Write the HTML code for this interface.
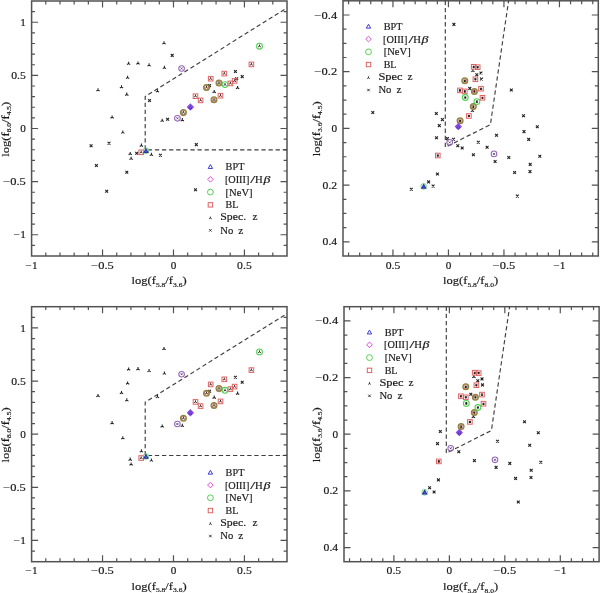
<!DOCTYPE html>
<html><head><meta charset="utf-8"><title>figure</title>
<style>html,body{margin:0;padding:0;background:#fff;}body{width:600px;height:593px;overflow:hidden;font-family:"Liberation Serif",serif;}svg{display:block;will-change:transform;} svg text{stroke:#1a1a1a;stroke-width:0.18px;}</style></head><body>
<svg width="600" height="593" viewBox="0 0 600 593" font-family="Liberation Serif, serif" fill="#1a1a1a"><g stroke-width="0">
<rect width="600" height="593" fill="#fff"/>
<path d="M45.79 256.00v-3.4M45.79 1.00v3.4M59.98 256.00v-3.4M59.98 1.00v3.4M74.17 256.00v-3.4M74.17 1.00v3.4M88.36 256.00v-3.4M88.36 1.00v3.4M102.54 256.00v-6.5M102.54 1.00v6.5M116.73 256.00v-3.4M116.73 1.00v3.4M130.92 256.00v-3.4M130.92 1.00v3.4M145.11 256.00v-3.4M145.11 1.00v3.4M159.30 256.00v-3.4M159.30 1.00v3.4M173.49 256.00v-6.5M173.49 1.00v6.5M187.68 256.00v-3.4M187.68 1.00v3.4M201.87 256.00v-3.4M201.87 1.00v3.4M216.06 256.00v-3.4M216.06 1.00v3.4M230.24 256.00v-3.4M230.24 1.00v3.4M244.43 256.00v-6.5M244.43 1.00v6.5M258.62 256.00v-3.4M258.62 1.00v3.4M272.81 256.00v-3.4M272.81 1.00v3.4M31.60 245.37h3.4M287.00 245.37h-3.4M31.60 234.75h6.5M287.00 234.75h-6.5M31.60 224.12h3.4M287.00 224.12h-3.4M31.60 213.50h3.4M287.00 213.50h-3.4M31.60 202.88h3.4M287.00 202.88h-3.4M31.60 192.25h3.4M287.00 192.25h-3.4M31.60 181.62h6.5M287.00 181.62h-6.5M31.60 171.00h3.4M287.00 171.00h-3.4M31.60 160.38h3.4M287.00 160.38h-3.4M31.60 149.75h3.4M287.00 149.75h-3.4M31.60 139.12h3.4M287.00 139.12h-3.4M31.60 128.50h6.5M287.00 128.50h-6.5M31.60 117.88h3.4M287.00 117.88h-3.4M31.60 107.25h3.4M287.00 107.25h-3.4M31.60 96.62h3.4M287.00 96.62h-3.4M31.60 86.00h3.4M287.00 86.00h-3.4M31.60 75.37h6.5M287.00 75.37h-6.5M31.60 64.75h3.4M287.00 64.75h-3.4M31.60 54.12h3.4M287.00 54.12h-3.4M31.60 43.50h3.4M287.00 43.50h-3.4M31.60 32.87h3.4M287.00 32.87h-3.4M31.60 22.25h6.5M287.00 22.25h-6.5M31.60 11.62h3.4M287.00 11.62h-3.4" stroke="#525252" stroke-width="1.2" fill="none"/>
<rect x="31.60" y="1.00" width="255.40" height="255.00" fill="none" stroke="#525252" stroke-width="1.5"/>
<path d="M45.79 561.70v-3.4M45.79 306.70v3.4M59.98 561.70v-3.4M59.98 306.70v3.4M74.17 561.70v-3.4M74.17 306.70v3.4M88.36 561.70v-3.4M88.36 306.70v3.4M102.54 561.70v-6.5M102.54 306.70v6.5M116.73 561.70v-3.4M116.73 306.70v3.4M130.92 561.70v-3.4M130.92 306.70v3.4M145.11 561.70v-3.4M145.11 306.70v3.4M159.30 561.70v-3.4M159.30 306.70v3.4M173.49 561.70v-6.5M173.49 306.70v6.5M187.68 561.70v-3.4M187.68 306.70v3.4M201.87 561.70v-3.4M201.87 306.70v3.4M216.06 561.70v-3.4M216.06 306.70v3.4M230.24 561.70v-3.4M230.24 306.70v3.4M244.43 561.70v-6.5M244.43 306.70v6.5M258.62 561.70v-3.4M258.62 306.70v3.4M272.81 561.70v-3.4M272.81 306.70v3.4M31.60 551.08h3.4M287.00 551.08h-3.4M31.60 540.45h6.5M287.00 540.45h-6.5M31.60 529.83h3.4M287.00 529.83h-3.4M31.60 519.20h3.4M287.00 519.20h-3.4M31.60 508.58h3.4M287.00 508.58h-3.4M31.60 497.95h3.4M287.00 497.95h-3.4M31.60 487.33h6.5M287.00 487.33h-6.5M31.60 476.70h3.4M287.00 476.70h-3.4M31.60 466.08h3.4M287.00 466.08h-3.4M31.60 455.45h3.4M287.00 455.45h-3.4M31.60 444.83h3.4M287.00 444.83h-3.4M31.60 434.20h6.5M287.00 434.20h-6.5M31.60 423.58h3.4M287.00 423.58h-3.4M31.60 412.95h3.4M287.00 412.95h-3.4M31.60 402.33h3.4M287.00 402.33h-3.4M31.60 391.70h3.4M287.00 391.70h-3.4M31.60 381.07h6.5M287.00 381.07h-6.5M31.60 370.45h3.4M287.00 370.45h-3.4M31.60 359.82h3.4M287.00 359.82h-3.4M31.60 349.20h3.4M287.00 349.20h-3.4M31.60 338.57h3.4M287.00 338.57h-3.4M31.60 327.95h6.5M287.00 327.95h-6.5M31.60 317.32h3.4M287.00 317.32h-3.4" stroke="#525252" stroke-width="1.2" fill="none"/>
<rect x="31.60" y="306.70" width="255.40" height="255.00" fill="none" stroke="#525252" stroke-width="1.5"/>
<path d="M592.75 256.00v-3.4M592.75 0.80v3.4M581.65 256.00v-3.4M581.65 0.80v3.4M570.55 256.00v-3.4M570.55 0.80v3.4M559.45 256.00v-6.5M559.45 0.80v6.5M548.35 256.00v-3.4M548.35 0.80v3.4M537.25 256.00v-3.4M537.25 0.80v3.4M526.15 256.00v-3.4M526.15 0.80v3.4M515.05 256.00v-3.4M515.05 0.80v3.4M503.95 256.00v-6.5M503.95 0.80v6.5M492.85 256.00v-3.4M492.85 0.80v3.4M481.75 256.00v-3.4M481.75 0.80v3.4M470.65 256.00v-3.4M470.65 0.80v3.4M459.55 256.00v-3.4M459.55 0.80v3.4M448.45 256.00v-6.5M448.45 0.80v6.5M437.35 256.00v-3.4M437.35 0.80v3.4M426.25 256.00v-3.4M426.25 0.80v3.4M415.15 256.00v-3.4M415.15 0.80v3.4M404.05 256.00v-3.4M404.05 0.80v3.4M392.95 256.00v-6.5M392.95 0.80v6.5M381.85 256.00v-3.4M381.85 0.80v3.4M370.75 256.00v-3.4M370.75 0.80v3.4M359.65 256.00v-3.4M359.65 0.80v3.4M348.55 256.00v-3.4M348.55 0.80v3.4M343.00 14.98h6.5M598.30 14.98h-6.5M343.00 29.16h3.4M598.30 29.16h-3.4M343.00 43.33h3.4M598.30 43.33h-3.4M343.00 57.51h3.4M598.30 57.51h-3.4M343.00 71.69h6.5M598.30 71.69h-6.5M343.00 85.87h3.4M598.30 85.87h-3.4M343.00 100.04h3.4M598.30 100.04h-3.4M343.00 114.22h3.4M598.30 114.22h-3.4M343.00 128.40h6.5M598.30 128.40h-6.5M343.00 142.58h3.4M598.30 142.58h-3.4M343.00 156.76h3.4M598.30 156.76h-3.4M343.00 170.93h3.4M598.30 170.93h-3.4M343.00 185.11h6.5M598.30 185.11h-6.5M343.00 199.29h3.4M598.30 199.29h-3.4M343.00 213.47h3.4M598.30 213.47h-3.4M343.00 227.64h3.4M598.30 227.64h-3.4M343.00 241.82h6.5M598.30 241.82h-6.5" stroke="#525252" stroke-width="1.2" fill="none"/>
<rect x="343.00" y="0.80" width="255.30" height="255.20" fill="none" stroke="#525252" stroke-width="1.5"/>
<path d="M593.55 561.70v-3.4M593.55 306.70v3.4M582.46 561.70v-3.4M582.46 306.70v3.4M571.37 561.70v-3.4M571.37 306.70v3.4M560.28 561.70v-6.5M560.28 306.70v6.5M549.19 561.70v-3.4M549.19 306.70v3.4M538.10 561.70v-3.4M538.10 306.70v3.4M527.01 561.70v-3.4M527.01 306.70v3.4M515.92 561.70v-3.4M515.92 306.70v3.4M504.82 561.70v-6.5M504.82 306.70v6.5M493.73 561.70v-3.4M493.73 306.70v3.4M482.64 561.70v-3.4M482.64 306.70v3.4M471.55 561.70v-3.4M471.55 306.70v3.4M460.46 561.70v-3.4M460.46 306.70v3.4M449.37 561.70v-6.5M449.37 306.70v6.5M438.28 561.70v-3.4M438.28 306.70v3.4M427.18 561.70v-3.4M427.18 306.70v3.4M416.09 561.70v-3.4M416.09 306.70v3.4M405.00 561.70v-3.4M405.00 306.70v3.4M393.91 561.70v-6.5M393.91 306.70v6.5M382.82 561.70v-3.4M382.82 306.70v3.4M371.73 561.70v-3.4M371.73 306.70v3.4M360.64 561.70v-3.4M360.64 306.70v3.4M349.55 561.70v-3.4M349.55 306.70v3.4M344.00 320.87h6.5M599.10 320.87h-6.5M344.00 335.03h3.4M599.10 335.03h-3.4M344.00 349.20h3.4M599.10 349.20h-3.4M344.00 363.37h3.4M599.10 363.37h-3.4M344.00 377.53h6.5M599.10 377.53h-6.5M344.00 391.70h3.4M599.10 391.70h-3.4M344.00 405.87h3.4M599.10 405.87h-3.4M344.00 420.03h3.4M599.10 420.03h-3.4M344.00 434.20h6.5M599.10 434.20h-6.5M344.00 448.37h3.4M599.10 448.37h-3.4M344.00 462.53h3.4M599.10 462.53h-3.4M344.00 476.70h3.4M599.10 476.70h-3.4M344.00 490.87h6.5M599.10 490.87h-6.5M344.00 505.03h3.4M599.10 505.03h-3.4M344.00 519.20h3.4M599.10 519.20h-3.4M344.00 533.37h3.4M599.10 533.37h-3.4M344.00 547.53h6.5M599.10 547.53h-6.5" stroke="#525252" stroke-width="1.2" fill="none"/>
<rect x="344.00" y="306.70" width="255.10" height="255.00" fill="none" stroke="#525252" stroke-width="1.5"/>
<text x="31.60" y="268.50" font-size="10.5" text-anchor="middle" textLength="12.0" lengthAdjust="spacingAndGlyphs">−1</text>
<text x="102.54" y="268.50" font-size="10.5" text-anchor="middle" textLength="22.6" lengthAdjust="spacingAndGlyphs">−0.5</text>
<text x="173.49" y="268.50" font-size="10.5" text-anchor="middle" textLength="5.6" lengthAdjust="spacingAndGlyphs">0</text>
<text x="244.43" y="268.50" font-size="10.5" text-anchor="middle" textLength="14.6" lengthAdjust="spacingAndGlyphs">0.5</text>
<text x="25.80" y="25.85" font-size="10.5" text-anchor="end" textLength="5.6" lengthAdjust="spacingAndGlyphs">1</text>
<text x="25.80" y="78.97" font-size="10.5" text-anchor="end" textLength="14.6" lengthAdjust="spacingAndGlyphs">0.5</text>
<text x="25.80" y="132.10" font-size="10.5" text-anchor="end" textLength="5.6" lengthAdjust="spacingAndGlyphs">0</text>
<text x="25.80" y="185.22" font-size="10.5" text-anchor="end" textLength="22.6" lengthAdjust="spacingAndGlyphs">−0.5</text>
<text x="25.80" y="238.35" font-size="10.5" text-anchor="end" textLength="12.0" lengthAdjust="spacingAndGlyphs">−1</text>
<text x="392.95" y="268.50" font-size="10.5" text-anchor="middle" textLength="14.6" lengthAdjust="spacingAndGlyphs">0.5</text>
<text x="448.45" y="268.50" font-size="10.5" text-anchor="middle" textLength="5.6" lengthAdjust="spacingAndGlyphs">0</text>
<text x="503.95" y="268.50" font-size="10.5" text-anchor="middle" textLength="22.6" lengthAdjust="spacingAndGlyphs">−0.5</text>
<text x="559.45" y="268.50" font-size="10.5" text-anchor="middle" textLength="12.0" lengthAdjust="spacingAndGlyphs">−1</text>
<text x="337.20" y="18.58" font-size="10.5" text-anchor="end" textLength="22.6" lengthAdjust="spacingAndGlyphs">−0.4</text>
<text x="337.20" y="75.29" font-size="10.5" text-anchor="end" textLength="22.6" lengthAdjust="spacingAndGlyphs">−0.2</text>
<text x="337.20" y="132.00" font-size="10.5" text-anchor="end" textLength="5.6" lengthAdjust="spacingAndGlyphs">0</text>
<text x="337.20" y="188.71" font-size="10.5" text-anchor="end" textLength="14.6" lengthAdjust="spacingAndGlyphs">0.2</text>
<text x="337.20" y="245.42" font-size="10.5" text-anchor="end" textLength="14.6" lengthAdjust="spacingAndGlyphs">0.4</text>
<text x="31.60" y="574.20" font-size="10.5" text-anchor="middle" textLength="12.0" lengthAdjust="spacingAndGlyphs">−1</text>
<text x="102.54" y="574.20" font-size="10.5" text-anchor="middle" textLength="22.6" lengthAdjust="spacingAndGlyphs">−0.5</text>
<text x="173.49" y="574.20" font-size="10.5" text-anchor="middle" textLength="5.6" lengthAdjust="spacingAndGlyphs">0</text>
<text x="244.43" y="574.20" font-size="10.5" text-anchor="middle" textLength="14.6" lengthAdjust="spacingAndGlyphs">0.5</text>
<text x="25.80" y="331.55" font-size="10.5" text-anchor="end" textLength="5.6" lengthAdjust="spacingAndGlyphs">1</text>
<text x="25.80" y="384.68" font-size="10.5" text-anchor="end" textLength="14.6" lengthAdjust="spacingAndGlyphs">0.5</text>
<text x="25.80" y="437.80" font-size="10.5" text-anchor="end" textLength="5.6" lengthAdjust="spacingAndGlyphs">0</text>
<text x="25.80" y="490.93" font-size="10.5" text-anchor="end" textLength="22.6" lengthAdjust="spacingAndGlyphs">−0.5</text>
<text x="25.80" y="544.05" font-size="10.5" text-anchor="end" textLength="12.0" lengthAdjust="spacingAndGlyphs">−1</text>
<text x="393.91" y="574.20" font-size="10.5" text-anchor="middle" textLength="14.6" lengthAdjust="spacingAndGlyphs">0.5</text>
<text x="449.37" y="574.20" font-size="10.5" text-anchor="middle" textLength="5.6" lengthAdjust="spacingAndGlyphs">0</text>
<text x="504.82" y="574.20" font-size="10.5" text-anchor="middle" textLength="22.6" lengthAdjust="spacingAndGlyphs">−0.5</text>
<text x="560.28" y="574.20" font-size="10.5" text-anchor="middle" textLength="12.0" lengthAdjust="spacingAndGlyphs">−1</text>
<text x="338.20" y="324.47" font-size="10.5" text-anchor="end" textLength="22.6" lengthAdjust="spacingAndGlyphs">−0.4</text>
<text x="338.20" y="381.13" font-size="10.5" text-anchor="end" textLength="22.6" lengthAdjust="spacingAndGlyphs">−0.2</text>
<text x="338.20" y="437.80" font-size="10.5" text-anchor="end" textLength="5.6" lengthAdjust="spacingAndGlyphs">0</text>
<text x="338.20" y="494.47" font-size="10.5" text-anchor="end" textLength="14.6" lengthAdjust="spacingAndGlyphs">0.2</text>
<text x="338.20" y="551.13" font-size="10.5" text-anchor="end" textLength="14.6" lengthAdjust="spacingAndGlyphs">0.4</text>
<text x="159.10" y="284.00" font-size="11" text-anchor="middle" textLength="55.0" lengthAdjust="spacingAndGlyphs">log(f<tspan font-size="6.6" dy="2.6">5.8</tspan><tspan dy="-2.6">/f</tspan><tspan font-size="6.6" dy="2.6">3.6</tspan><tspan dy="-2.6">)</tspan></text>
<text x="8.60" y="129.20" font-size="11" text-anchor="middle" textLength="55.0" lengthAdjust="spacingAndGlyphs" transform="rotate(-90 8.60 129.20)">log(f<tspan font-size="6.6" dy="2.6">8.0</tspan><tspan dy="-2.6">/f</tspan><tspan font-size="6.6" dy="2.6">4.5</tspan><tspan dy="-2.6">)</tspan></text>
<text x="159.10" y="589.70" font-size="11" text-anchor="middle" textLength="55.0" lengthAdjust="spacingAndGlyphs">log(f<tspan font-size="6.6" dy="2.6">5.8</tspan><tspan dy="-2.6">/f</tspan><tspan font-size="6.6" dy="2.6">3.6</tspan><tspan dy="-2.6">)</tspan></text>
<text x="8.60" y="434.90" font-size="11" text-anchor="middle" textLength="55.0" lengthAdjust="spacingAndGlyphs" transform="rotate(-90 8.60 434.90)">log(f<tspan font-size="6.6" dy="2.6">8.0</tspan><tspan dy="-2.6">/f</tspan><tspan font-size="6.6" dy="2.6">4.5</tspan><tspan dy="-2.6">)</tspan></text>
<text x="470.60" y="284.00" font-size="11" text-anchor="middle" textLength="55.0" lengthAdjust="spacingAndGlyphs">log(f<tspan font-size="6.6" dy="2.6">5.8</tspan><tspan dy="-2.6">/f</tspan><tspan font-size="6.6" dy="2.6">8.0</tspan><tspan dy="-2.6">)</tspan></text>
<text x="319.70" y="128.80" font-size="11" text-anchor="middle" textLength="55.0" lengthAdjust="spacingAndGlyphs" transform="rotate(-90 319.70 128.80)">log(f<tspan font-size="6.6" dy="2.6">3.6</tspan><tspan dy="-2.6">/f</tspan><tspan font-size="6.6" dy="2.6">4.5</tspan><tspan dy="-2.6">)</tspan></text>
<text x="470.60" y="589.90" font-size="11" text-anchor="middle" textLength="55.0" lengthAdjust="spacingAndGlyphs">log(f<tspan font-size="6.6" dy="2.6">5.8</tspan><tspan dy="-2.6">/f</tspan><tspan font-size="6.6" dy="2.6">8.0</tspan><tspan dy="-2.6">)</tspan></text>
<text x="319.70" y="434.70" font-size="11" text-anchor="middle" textLength="55.0" lengthAdjust="spacingAndGlyphs" transform="rotate(-90 319.70 434.70)">log(f<tspan font-size="6.6" dy="2.6">3.6</tspan><tspan dy="-2.6">/f</tspan><tspan font-size="6.6" dy="2.6">4.5</tspan><tspan dy="-2.6">)</tspan></text>
<path d="M287.00 149.80L145.20 149.80L145.20 96.50L287.00 7.90" stroke="#3e3e3e" stroke-width="1.15" fill="none" stroke-dasharray="4.3 2.8"/>
<path d="M287.00 455.50L145.20 455.50L145.20 402.20L287.00 313.60" stroke="#3e3e3e" stroke-width="1.15" fill="none" stroke-dasharray="4.3 2.8"/>
<path d="M445.30 0.80L445.30 147.30L490.40 124.60L508.60 0.80" stroke="#3e3e3e" stroke-width="1.15" fill="none" stroke-dasharray="4.3 2.8"/>
<path d="M446.30 306.70L446.30 453.20L491.40 430.50L509.60 306.70" stroke="#3e3e3e" stroke-width="1.15" fill="none" stroke-dasharray="4.3 2.8"/>
<path d="M98.00 90.10v-1.9M98.00 90.10l-1.65 0.95M98.00 90.10l1.65 0.95" stroke="#222" stroke-width="1.05" fill="none"/><path d="M112.10 117.30v-1.9M112.10 117.30l-1.65 0.95M112.10 117.30l1.65 0.95" stroke="#222" stroke-width="1.05" fill="none"/><path d="M121.50 87.10v-1.9M121.50 87.10l-1.65 0.95M121.50 87.10l1.65 0.95" stroke="#222" stroke-width="1.05" fill="none"/><path d="M122.80 132.40v-1.9M122.80 132.40l-1.65 0.95M122.80 132.40l1.65 0.95" stroke="#222" stroke-width="1.05" fill="none"/><path d="M126.80 94.50v-1.9M126.80 94.50l-1.65 0.95M126.80 94.50l1.65 0.95" stroke="#222" stroke-width="1.05" fill="none"/><path d="M127.60 77.60v-1.9M127.60 77.60l-1.65 0.95M127.60 77.60l1.65 0.95" stroke="#222" stroke-width="1.05" fill="none"/><path d="M128.60 63.60v-1.9M128.60 63.60l-1.65 0.95M128.60 63.60l1.65 0.95" stroke="#222" stroke-width="1.05" fill="none"/><path d="M138.00 63.30v-1.9M138.00 63.30l-1.65 0.95M138.00 63.30l1.65 0.95" stroke="#222" stroke-width="1.05" fill="none"/><path d="M149.10 65.20v-1.9M149.10 65.20l-1.65 0.95M149.10 65.20l1.65 0.95" stroke="#222" stroke-width="1.05" fill="none"/><path d="M164.00 43.10v-1.9M164.00 43.10l-1.65 0.95M164.00 43.10l1.65 0.95" stroke="#222" stroke-width="1.05" fill="none"/><path d="M164.40 67.70v-1.9M164.40 67.70l-1.65 0.95M164.40 67.70l1.65 0.95" stroke="#222" stroke-width="1.05" fill="none"/><path d="M141.40 145.50v-1.9M141.40 145.50l-1.65 0.95M141.40 145.50l1.65 0.95" stroke="#222" stroke-width="1.05" fill="none"/><path d="M130.20 153.80v-1.9M130.20 153.80l-1.65 0.95M130.20 153.80l1.65 0.95" stroke="#222" stroke-width="1.05" fill="none"/><path d="M131.10 158.60v-1.9M131.10 158.60l-1.65 0.95M131.10 158.60l1.65 0.95" stroke="#222" stroke-width="1.05" fill="none"/><path d="M151.40 154.70v-1.9M151.40 154.70l-1.65 0.95M151.40 154.70l1.65 0.95" stroke="#222" stroke-width="1.05" fill="none"/><path d="M162.20 120.60v-1.9M162.20 120.60l-1.65 0.95M162.20 120.60l1.65 0.95" stroke="#222" stroke-width="1.05" fill="none"/><path d="M182.30 120.00v-1.9M182.30 120.00l-1.65 0.95M182.30 120.00l1.65 0.95" stroke="#222" stroke-width="1.05" fill="none"/><path d="M214.20 91.80v-1.9M214.20 91.80l-1.65 0.95M214.20 91.80l1.65 0.95" stroke="#222" stroke-width="1.05" fill="none"/><path d="M237.60 87.80v-1.9M237.60 87.80l-1.65 0.95M237.60 87.80l1.65 0.95" stroke="#222" stroke-width="1.05" fill="none"/><path d="M157.50 91.20v-1.9M157.50 91.20l-1.65 0.95M157.50 91.20l1.65 0.95" stroke="#222" stroke-width="1.05" fill="none"/><path d="M235.30 77.40l2.8 2.8M235.30 80.20l2.8 -2.8" stroke="#222" stroke-width="1.1" fill="none"/><path d="M89.70 144.40l2.8 2.8M89.70 147.20l2.8 -2.8" stroke="#222" stroke-width="1.1" fill="none"/><path d="M107.60 141.80l2.8 2.8M107.60 144.60l2.8 -2.8" stroke="#222" stroke-width="1.1" fill="none"/><path d="M95.00 164.10l2.8 2.8M95.00 166.90l2.8 -2.8" stroke="#222" stroke-width="1.1" fill="none"/><path d="M125.40 170.90l2.8 2.8M125.40 173.70l2.8 -2.8" stroke="#222" stroke-width="1.1" fill="none"/><path d="M105.30 189.90l2.8 2.8M105.30 192.70l2.8 -2.8" stroke="#222" stroke-width="1.1" fill="none"/><path d="M135.30 151.90l2.8 2.8M135.30 154.70l2.8 -2.8" stroke="#222" stroke-width="1.1" fill="none"/><path d="M159.00 153.80l2.8 2.8M159.00 156.60l2.8 -2.8" stroke="#222" stroke-width="1.1" fill="none"/><path d="M194.10 188.40l2.8 2.8M194.10 191.20l2.8 -2.8" stroke="#222" stroke-width="1.1" fill="none"/><path d="M194.90 143.20l2.8 2.8M194.90 146.00l2.8 -2.8" stroke="#222" stroke-width="1.1" fill="none"/><path d="M148.10 99.10l2.8 2.8M148.10 101.90l2.8 -2.8" stroke="#222" stroke-width="1.1" fill="none"/><path d="M166.20 117.90l2.8 2.8M166.20 120.70l2.8 -2.8" stroke="#222" stroke-width="1.1" fill="none"/><path d="M170.80 54.00l2.8 2.8M170.80 56.80l2.8 -2.8" stroke="#222" stroke-width="1.1" fill="none"/><path d="M234.00 70.10l2.8 2.8M234.00 72.90l2.8 -2.8" stroke="#222" stroke-width="1.1" fill="none"/><path d="M240.80 75.20l2.8 2.8M240.80 78.00l2.8 -2.8" stroke="#222" stroke-width="1.1" fill="none"/><path d="M208.10 84.20l2.8 2.8M208.10 87.00l2.8 -2.8" stroke="#222" stroke-width="1.1" fill="none"/><rect x="138.90" y="150.00" width="4.60" height="4.60" stroke="#e26262" stroke-width="1.0" fill="none"/><path d="M141.20 152.30v-1.6M141.20 152.30l-1.39 0.80M141.20 152.30l1.39 0.80" stroke="#2a2a2a" stroke-width="0.95" fill="none"/><rect x="193.20" y="93.90" width="4.60" height="4.60" stroke="#e26262" stroke-width="1.0" fill="none"/><path d="M195.50 96.20v-1.6M195.50 96.20l-1.39 0.80M195.50 96.20l1.39 0.80" stroke="#2a2a2a" stroke-width="0.95" fill="none"/><rect x="198.30" y="98.10" width="4.60" height="4.60" stroke="#e26262" stroke-width="1.0" fill="none"/><path d="M200.60 100.40v-1.6M200.60 100.40l-1.39 0.80M200.60 100.40l1.39 0.80" stroke="#2a2a2a" stroke-width="0.95" fill="none"/><rect x="208.40" y="76.40" width="4.60" height="4.60" stroke="#e26262" stroke-width="1.0" fill="none"/><path d="M210.70 78.70v-1.6M210.70 78.70l-1.39 0.80M210.70 78.70l1.39 0.80" stroke="#2a2a2a" stroke-width="0.95" fill="none"/><rect x="218.20" y="93.40" width="4.60" height="4.60" stroke="#e26262" stroke-width="1.0" fill="none"/><path d="M220.50 95.70v-1.6M220.50 95.70l-1.39 0.80M220.50 95.70l1.39 0.80" stroke="#2a2a2a" stroke-width="0.95" fill="none"/><rect x="222.00" y="71.30" width="4.60" height="4.60" stroke="#e26262" stroke-width="1.0" fill="none"/><path d="M224.30 73.60v-1.6M224.30 73.60l-1.39 0.80M224.30 73.60l1.39 0.80" stroke="#2a2a2a" stroke-width="0.95" fill="none"/><rect x="228.10" y="81.10" width="4.60" height="4.60" stroke="#e26262" stroke-width="1.0" fill="none"/><path d="M230.40 83.40v-1.6M230.40 83.40l-1.39 0.80M230.40 83.40l1.39 0.80" stroke="#2a2a2a" stroke-width="0.95" fill="none"/><rect x="232.30" y="78.60" width="4.60" height="4.60" stroke="#e26262" stroke-width="1.0" fill="none"/><path d="M234.60 80.90v-1.6M234.60 80.90l-1.39 0.80M234.60 80.90l1.39 0.80" stroke="#2a2a2a" stroke-width="0.95" fill="none"/><rect x="249.10" y="62.10" width="4.60" height="4.60" stroke="#e26262" stroke-width="1.0" fill="none"/><path d="M251.40 64.40v-1.6M251.40 64.40l-1.39 0.80M251.40 64.40l1.39 0.80" stroke="#2a2a2a" stroke-width="0.95" fill="none"/><rect x="181.50" y="110.70" width="3.80" height="3.80" stroke="#d07058" stroke-width="0.9" fill="none"/><circle cx="183.40" cy="112.60" r="2.9" stroke="#8e8440" stroke-width="1.25" fill="none"/><path d="M183.40 112.60v-1.6M183.40 112.60l-1.39 0.80M183.40 112.60l1.39 0.80" stroke="#2a2a2a" stroke-width="0.95" fill="none"/><rect x="204.60" y="85.60" width="3.80" height="3.80" stroke="#d07058" stroke-width="0.9" fill="none"/><circle cx="206.50" cy="87.50" r="2.9" stroke="#8e8440" stroke-width="1.25" fill="none"/><path d="M206.50 87.50v-1.6M206.50 87.50l-1.39 0.80M206.50 87.50l1.39 0.80" stroke="#2a2a2a" stroke-width="0.95" fill="none"/><rect x="212.10" y="97.90" width="3.80" height="3.80" stroke="#d07058" stroke-width="0.9" fill="none"/><circle cx="214.00" cy="99.80" r="2.9" stroke="#8e8440" stroke-width="1.25" fill="none"/><path d="M214.00 99.80v-1.6M214.00 99.80l-1.39 0.80M214.00 99.80l1.39 0.80" stroke="#2a2a2a" stroke-width="0.95" fill="none"/><rect x="217.10" y="81.00" width="3.80" height="3.80" stroke="#d07058" stroke-width="0.9" fill="none"/><circle cx="219.00" cy="82.90" r="2.9" stroke="#8e8440" stroke-width="1.25" fill="none"/><path d="M219.00 82.90v-1.6M219.00 82.90l-1.39 0.80M219.00 82.90l1.39 0.80" stroke="#2a2a2a" stroke-width="0.95" fill="none"/><circle cx="225.00" cy="84.60" r="2.9" stroke="#52d052" stroke-width="1.1" fill="none"/><path d="M225.00 84.60v-1.6M225.00 84.60l-1.39 0.80M225.00 84.60l1.39 0.80" stroke="#2a2a2a" stroke-width="0.95" fill="none"/><circle cx="259.50" cy="46.20" r="2.9" stroke="#52d052" stroke-width="1.1" fill="none"/><path d="M259.50 46.20v-1.6M259.50 46.20l-1.39 0.80M259.50 46.20l1.39 0.80" stroke="#2a2a2a" stroke-width="0.95" fill="none"/><circle cx="177.40" cy="118.30" r="2.8" stroke="#9466b8" stroke-width="1.05" fill="none"/><path d="M176.40 117.30l2.0 2.0M176.40 119.30l2.0 -2.0" stroke="#503060" stroke-width="0.8" fill="none"/><circle cx="181.60" cy="68.50" r="2.8" stroke="#9466b8" stroke-width="1.05" fill="none"/><path d="M180.60 67.50l2.0 2.0M180.60 69.50l2.0 -2.0" stroke="#503060" stroke-width="0.8" fill="none"/><path d="M190.40 104.10L193.30 107.00L190.40 109.90L187.50 107.00Z" stroke="#8a48e0" stroke-width="1.1" fill="#9a66e8"/><path d="M190.40 105.70L192.00 108.50L188.80 108.50Z" stroke="#4a2ab8" stroke-width="0.8" fill="none"/><circle cx="146.00" cy="150.80" r="2.8" stroke="#6cd47a" stroke-width="1.0" fill="none"/><path d="M146.00 149.00L148.00 152.50L144.00 152.50Z" stroke="#2c34a8" stroke-width="1.15" fill="#5a5ad0"/>
<path d="M98.00 395.80v-1.9M98.00 395.80l-1.65 0.95M98.00 395.80l1.65 0.95" stroke="#222" stroke-width="1.05" fill="none"/><path d="M112.10 423.00v-1.9M112.10 423.00l-1.65 0.95M112.10 423.00l1.65 0.95" stroke="#222" stroke-width="1.05" fill="none"/><path d="M121.50 392.80v-1.9M121.50 392.80l-1.65 0.95M121.50 392.80l1.65 0.95" stroke="#222" stroke-width="1.05" fill="none"/><path d="M122.80 438.10v-1.9M122.80 438.10l-1.65 0.95M122.80 438.10l1.65 0.95" stroke="#222" stroke-width="1.05" fill="none"/><path d="M126.80 400.20v-1.9M126.80 400.20l-1.65 0.95M126.80 400.20l1.65 0.95" stroke="#222" stroke-width="1.05" fill="none"/><path d="M127.60 383.30v-1.9M127.60 383.30l-1.65 0.95M127.60 383.30l1.65 0.95" stroke="#222" stroke-width="1.05" fill="none"/><path d="M128.60 369.30v-1.9M128.60 369.30l-1.65 0.95M128.60 369.30l1.65 0.95" stroke="#222" stroke-width="1.05" fill="none"/><path d="M138.00 369.00v-1.9M138.00 369.00l-1.65 0.95M138.00 369.00l1.65 0.95" stroke="#222" stroke-width="1.05" fill="none"/><path d="M149.10 370.90v-1.9M149.10 370.90l-1.65 0.95M149.10 370.90l1.65 0.95" stroke="#222" stroke-width="1.05" fill="none"/><path d="M164.00 348.80v-1.9M164.00 348.80l-1.65 0.95M164.00 348.80l1.65 0.95" stroke="#222" stroke-width="1.05" fill="none"/><path d="M164.40 373.40v-1.9M164.40 373.40l-1.65 0.95M164.40 373.40l1.65 0.95" stroke="#222" stroke-width="1.05" fill="none"/><path d="M141.40 451.20v-1.9M141.40 451.20l-1.65 0.95M141.40 451.20l1.65 0.95" stroke="#222" stroke-width="1.05" fill="none"/><path d="M130.20 459.50v-1.9M130.20 459.50l-1.65 0.95M130.20 459.50l1.65 0.95" stroke="#222" stroke-width="1.05" fill="none"/><path d="M131.10 464.30v-1.9M131.10 464.30l-1.65 0.95M131.10 464.30l1.65 0.95" stroke="#222" stroke-width="1.05" fill="none"/><path d="M151.40 460.40v-1.9M151.40 460.40l-1.65 0.95M151.40 460.40l1.65 0.95" stroke="#222" stroke-width="1.05" fill="none"/><path d="M162.20 426.30v-1.9M162.20 426.30l-1.65 0.95M162.20 426.30l1.65 0.95" stroke="#222" stroke-width="1.05" fill="none"/><path d="M182.30 425.70v-1.9M182.30 425.70l-1.65 0.95M182.30 425.70l1.65 0.95" stroke="#222" stroke-width="1.05" fill="none"/><path d="M214.20 397.50v-1.9M214.20 397.50l-1.65 0.95M214.20 397.50l1.65 0.95" stroke="#222" stroke-width="1.05" fill="none"/><path d="M237.60 393.50v-1.9M237.60 393.50l-1.65 0.95M237.60 393.50l1.65 0.95" stroke="#222" stroke-width="1.05" fill="none"/><path d="M157.50 396.90v-1.9M157.50 396.90l-1.65 0.95M157.50 396.90l1.65 0.95" stroke="#222" stroke-width="1.05" fill="none"/><path d="M234.00 375.80l2.8 2.8M234.00 378.60l2.8 -2.8" stroke="#222" stroke-width="1.1" fill="none"/><path d="M240.80 380.90l2.8 2.8M240.80 383.70l2.8 -2.8" stroke="#222" stroke-width="1.1" fill="none"/><path d="M208.10 389.90l2.8 2.8M208.10 392.70l2.8 -2.8" stroke="#222" stroke-width="1.1" fill="none"/><rect x="138.90" y="455.70" width="4.60" height="4.60" stroke="#e26262" stroke-width="1.0" fill="none"/><path d="M141.20 458.00v-1.6M141.20 458.00l-1.39 0.80M141.20 458.00l1.39 0.80" stroke="#2a2a2a" stroke-width="0.95" fill="none"/><rect x="193.20" y="399.60" width="4.60" height="4.60" stroke="#e26262" stroke-width="1.0" fill="none"/><path d="M195.50 401.90v-1.6M195.50 401.90l-1.39 0.80M195.50 401.90l1.39 0.80" stroke="#2a2a2a" stroke-width="0.95" fill="none"/><rect x="198.30" y="403.80" width="4.60" height="4.60" stroke="#e26262" stroke-width="1.0" fill="none"/><path d="M200.60 406.10v-1.6M200.60 406.10l-1.39 0.80M200.60 406.10l1.39 0.80" stroke="#2a2a2a" stroke-width="0.95" fill="none"/><rect x="208.40" y="382.10" width="4.60" height="4.60" stroke="#e26262" stroke-width="1.0" fill="none"/><path d="M210.70 384.40v-1.6M210.70 384.40l-1.39 0.80M210.70 384.40l1.39 0.80" stroke="#2a2a2a" stroke-width="0.95" fill="none"/><rect x="218.20" y="399.10" width="4.60" height="4.60" stroke="#e26262" stroke-width="1.0" fill="none"/><path d="M220.50 401.40v-1.6M220.50 401.40l-1.39 0.80M220.50 401.40l1.39 0.80" stroke="#2a2a2a" stroke-width="0.95" fill="none"/><rect x="222.00" y="377.00" width="4.60" height="4.60" stroke="#e26262" stroke-width="1.0" fill="none"/><path d="M224.30 379.30v-1.6M224.30 379.30l-1.39 0.80M224.30 379.30l1.39 0.80" stroke="#2a2a2a" stroke-width="0.95" fill="none"/><rect x="228.10" y="386.80" width="4.60" height="4.60" stroke="#e26262" stroke-width="1.0" fill="none"/><path d="M230.40 389.10v-1.6M230.40 389.10l-1.39 0.80M230.40 389.10l1.39 0.80" stroke="#2a2a2a" stroke-width="0.95" fill="none"/><rect x="232.30" y="384.30" width="4.60" height="4.60" stroke="#e26262" stroke-width="1.0" fill="none"/><path d="M234.60 386.60v-1.6M234.60 386.60l-1.39 0.80M234.60 386.60l1.39 0.80" stroke="#2a2a2a" stroke-width="0.95" fill="none"/><rect x="249.10" y="367.80" width="4.60" height="4.60" stroke="#e26262" stroke-width="1.0" fill="none"/><path d="M251.40 370.10v-1.6M251.40 370.10l-1.39 0.80M251.40 370.10l1.39 0.80" stroke="#2a2a2a" stroke-width="0.95" fill="none"/><rect x="181.50" y="416.40" width="3.80" height="3.80" stroke="#d07058" stroke-width="0.9" fill="none"/><circle cx="183.40" cy="418.30" r="2.9" stroke="#8e8440" stroke-width="1.25" fill="none"/><path d="M183.40 418.30v-1.6M183.40 418.30l-1.39 0.80M183.40 418.30l1.39 0.80" stroke="#2a2a2a" stroke-width="0.95" fill="none"/><rect x="204.60" y="391.30" width="3.80" height="3.80" stroke="#d07058" stroke-width="0.9" fill="none"/><circle cx="206.50" cy="393.20" r="2.9" stroke="#8e8440" stroke-width="1.25" fill="none"/><path d="M206.50 393.20v-1.6M206.50 393.20l-1.39 0.80M206.50 393.20l1.39 0.80" stroke="#2a2a2a" stroke-width="0.95" fill="none"/><rect x="212.10" y="403.60" width="3.80" height="3.80" stroke="#d07058" stroke-width="0.9" fill="none"/><circle cx="214.00" cy="405.50" r="2.9" stroke="#8e8440" stroke-width="1.25" fill="none"/><path d="M214.00 405.50v-1.6M214.00 405.50l-1.39 0.80M214.00 405.50l1.39 0.80" stroke="#2a2a2a" stroke-width="0.95" fill="none"/><rect x="217.10" y="386.70" width="3.80" height="3.80" stroke="#d07058" stroke-width="0.9" fill="none"/><circle cx="219.00" cy="388.60" r="2.9" stroke="#8e8440" stroke-width="1.25" fill="none"/><path d="M219.00 388.60v-1.6M219.00 388.60l-1.39 0.80M219.00 388.60l1.39 0.80" stroke="#2a2a2a" stroke-width="0.95" fill="none"/><circle cx="225.00" cy="390.30" r="2.9" stroke="#52d052" stroke-width="1.1" fill="none"/><path d="M225.00 390.30v-1.6M225.00 390.30l-1.39 0.80M225.00 390.30l1.39 0.80" stroke="#2a2a2a" stroke-width="0.95" fill="none"/><circle cx="259.50" cy="351.90" r="2.9" stroke="#52d052" stroke-width="1.1" fill="none"/><path d="M259.50 351.90v-1.6M259.50 351.90l-1.39 0.80M259.50 351.90l1.39 0.80" stroke="#2a2a2a" stroke-width="0.95" fill="none"/><circle cx="177.40" cy="424.00" r="2.8" stroke="#9466b8" stroke-width="1.05" fill="none"/><path d="M176.40 423.00l2.0 2.0M176.40 425.00l2.0 -2.0" stroke="#503060" stroke-width="0.8" fill="none"/><circle cx="181.60" cy="374.20" r="2.8" stroke="#9466b8" stroke-width="1.05" fill="none"/><path d="M180.60 373.20l2.0 2.0M180.60 375.20l2.0 -2.0" stroke="#503060" stroke-width="0.8" fill="none"/><path d="M190.40 409.80L193.30 412.70L190.40 415.60L187.50 412.70Z" stroke="#8a48e0" stroke-width="1.1" fill="#9a66e8"/><path d="M190.40 411.40L192.00 414.20L188.80 414.20Z" stroke="#4a2ab8" stroke-width="0.8" fill="none"/><circle cx="146.00" cy="456.50" r="2.8" stroke="#6cd47a" stroke-width="1.0" fill="none"/><path d="M146.00 454.70L148.00 458.20L144.00 458.20Z" stroke="#2c34a8" stroke-width="1.15" fill="#5a5ad0"/>
<path d="M472.90 70.90v-1.9M472.90 70.90l-1.65 0.95M472.90 70.90l1.65 0.95" stroke="#222" stroke-width="1.05" fill="none"/><path d="M472.40 110.90v-1.9M472.40 110.90l-1.65 0.95M472.40 110.90l1.65 0.95" stroke="#222" stroke-width="1.05" fill="none"/><path d="M522.60 130.20l2.8 2.8M522.60 133.00l2.8 -2.8" stroke="#222" stroke-width="1.1" fill="none"/><path d="M452.50 23.00l2.8 2.8M452.50 25.80l2.8 -2.8" stroke="#222" stroke-width="1.1" fill="none"/><path d="M371.40 111.10l2.8 2.8M371.40 113.90l2.8 -2.8" stroke="#222" stroke-width="1.1" fill="none"/><path d="M434.90 112.10l2.8 2.8M434.90 114.90l2.8 -2.8" stroke="#222" stroke-width="1.1" fill="none"/><path d="M441.00 118.20l2.8 2.8M441.00 121.00l2.8 -2.8" stroke="#222" stroke-width="1.1" fill="none"/><path d="M446.00 137.20l2.8 2.8M446.00 140.00l2.8 -2.8" stroke="#222" stroke-width="1.1" fill="none"/><path d="M452.10 137.80l2.8 2.8M452.10 140.60l2.8 -2.8" stroke="#222" stroke-width="1.1" fill="none"/><path d="M460.80 146.60l2.8 2.8M460.80 149.40l2.8 -2.8" stroke="#222" stroke-width="1.1" fill="none"/><path d="M476.90 140.80l2.8 2.8M476.90 143.60l2.8 -2.8" stroke="#222" stroke-width="1.1" fill="none"/><path d="M485.70 145.90l2.8 2.8M485.70 148.70l2.8 -2.8" stroke="#222" stroke-width="1.1" fill="none"/><path d="M509.90 88.60l2.8 2.8M509.90 91.40l2.8 -2.8" stroke="#222" stroke-width="1.1" fill="none"/><path d="M409.90 187.80l2.8 2.8M409.90 190.60l2.8 -2.8" stroke="#222" stroke-width="1.1" fill="none"/><path d="M437.90 124.20l2.8 2.8M437.90 127.00l2.8 -2.8" stroke="#222" stroke-width="1.1" fill="none"/><path d="M435.10 136.30l2.8 2.8M435.10 139.10l2.8 -2.8" stroke="#222" stroke-width="1.1" fill="none"/><path d="M456.40 144.40l2.8 2.8M456.40 147.20l2.8 -2.8" stroke="#222" stroke-width="1.1" fill="none"/><path d="M472.00 153.30l2.8 2.8M472.00 156.10l2.8 -2.8" stroke="#222" stroke-width="1.1" fill="none"/><path d="M495.10 133.90l2.8 2.8M495.10 136.70l2.8 -2.8" stroke="#222" stroke-width="1.1" fill="none"/><path d="M522.10 114.40l2.8 2.8M522.10 117.20l2.8 -2.8" stroke="#222" stroke-width="1.1" fill="none"/><path d="M535.90 125.40l2.8 2.8M535.90 128.20l2.8 -2.8" stroke="#222" stroke-width="1.1" fill="none"/><path d="M527.30 138.00l2.8 2.8M527.30 140.80l2.8 -2.8" stroke="#222" stroke-width="1.1" fill="none"/><path d="M507.40 156.10l2.8 2.8M507.40 158.90l2.8 -2.8" stroke="#222" stroke-width="1.1" fill="none"/><path d="M538.40 154.90l2.8 2.8M538.40 157.70l2.8 -2.8" stroke="#222" stroke-width="1.1" fill="none"/><path d="M493.70 160.10l2.8 2.8M493.70 162.90l2.8 -2.8" stroke="#222" stroke-width="1.1" fill="none"/><path d="M528.80 163.00l2.8 2.8M528.80 165.80l2.8 -2.8" stroke="#222" stroke-width="1.1" fill="none"/><path d="M528.60 170.20l2.8 2.8M528.60 173.00l2.8 -2.8" stroke="#222" stroke-width="1.1" fill="none"/><path d="M513.20 171.10l2.8 2.8M513.20 173.90l2.8 -2.8" stroke="#222" stroke-width="1.1" fill="none"/><path d="M515.90 194.70l2.8 2.8M515.90 197.50l2.8 -2.8" stroke="#222" stroke-width="1.1" fill="none"/><path d="M436.00 172.60l2.8 2.8M436.00 175.40l2.8 -2.8" stroke="#222" stroke-width="1.1" fill="none"/><path d="M427.20 180.50l2.8 2.8M427.20 183.30l2.8 -2.8" stroke="#222" stroke-width="1.1" fill="none"/><path d="M431.70 184.70l2.8 2.8M431.70 187.50l2.8 -2.8" stroke="#222" stroke-width="1.1" fill="none"/><path d="M475.40 73.40l2.8 2.8M475.40 76.20l2.8 -2.8" stroke="#222" stroke-width="1.1" fill="none"/><path d="M479.60 71.60l2.8 2.8M479.60 74.40l2.8 -2.8" stroke="#222" stroke-width="1.1" fill="none"/><path d="M480.10 77.60l2.8 2.8M480.10 80.40l2.8 -2.8" stroke="#222" stroke-width="1.1" fill="none"/><path d="M468.40 87.00l2.8 2.8M468.40 89.80l2.8 -2.8" stroke="#222" stroke-width="1.1" fill="none"/><rect x="471.40" y="64.50" width="4.60" height="4.60" stroke="#e26262" stroke-width="1.0" fill="none"/><path d="M472.80 65.90l1.8 1.8M472.80 67.70l1.8 -1.8" stroke="#202020" stroke-width="1.1" fill="none"/><rect x="475.40" y="64.90" width="4.60" height="4.60" stroke="#e26262" stroke-width="1.0" fill="none"/><path d="M476.80 66.30l1.8 1.8M476.80 68.10l1.8 -1.8" stroke="#202020" stroke-width="1.1" fill="none"/><rect x="473.10" y="77.00" width="4.60" height="4.60" stroke="#e26262" stroke-width="1.0" fill="none"/><path d="M474.50 78.40l1.8 1.8M474.50 80.20l1.8 -1.8" stroke="#202020" stroke-width="1.1" fill="none"/><rect x="457.60" y="88.10" width="4.60" height="4.60" stroke="#e26262" stroke-width="1.0" fill="none"/><path d="M459.00 89.50l1.8 1.8M459.00 91.30l1.8 -1.8" stroke="#202020" stroke-width="1.1" fill="none"/><rect x="462.50" y="89.10" width="4.60" height="4.60" stroke="#e26262" stroke-width="1.0" fill="none"/><path d="M463.90 90.50l1.8 1.8M463.90 92.30l1.8 -1.8" stroke="#202020" stroke-width="1.1" fill="none"/><rect x="478.70" y="86.40" width="4.60" height="4.60" stroke="#e26262" stroke-width="1.0" fill="none"/><path d="M480.10 87.80l1.8 1.8M480.10 89.60l1.8 -1.8" stroke="#202020" stroke-width="1.1" fill="none"/><rect x="480.20" y="95.50" width="4.60" height="4.60" stroke="#e26262" stroke-width="1.0" fill="none"/><path d="M481.60 96.90l1.8 1.8M481.60 98.70l1.8 -1.8" stroke="#202020" stroke-width="1.1" fill="none"/><rect x="466.60" y="113.70" width="4.60" height="4.60" stroke="#e26262" stroke-width="1.0" fill="none"/><path d="M468.00 115.10l1.8 1.8M468.00 116.90l1.8 -1.8" stroke="#202020" stroke-width="1.1" fill="none"/><rect x="435.50" y="153.20" width="4.60" height="4.60" stroke="#e26262" stroke-width="1.0" fill="none"/><path d="M436.90 154.60l1.8 1.8M436.90 156.40l1.8 -1.8" stroke="#202020" stroke-width="1.1" fill="none"/><rect x="462.90" y="78.90" width="3.80" height="3.80" stroke="#d07058" stroke-width="0.9" fill="none"/><circle cx="464.80" cy="80.80" r="2.9" stroke="#8e8440" stroke-width="1.25" fill="none"/><path d="M463.90 79.90l1.8 1.8M463.90 81.70l1.8 -1.8" stroke="#202020" stroke-width="1.1" fill="none"/><rect x="472.50" y="89.50" width="3.80" height="3.80" stroke="#d07058" stroke-width="0.9" fill="none"/><circle cx="474.40" cy="91.40" r="2.9" stroke="#8e8440" stroke-width="1.25" fill="none"/><path d="M473.50 90.50l1.8 1.8M473.50 92.30l1.8 -1.8" stroke="#202020" stroke-width="1.1" fill="none"/><rect x="471.40" y="104.70" width="3.80" height="3.80" stroke="#d07058" stroke-width="0.9" fill="none"/><circle cx="473.30" cy="106.60" r="2.9" stroke="#8e8440" stroke-width="1.25" fill="none"/><path d="M472.40 105.70l1.8 1.8M472.40 107.50l1.8 -1.8" stroke="#202020" stroke-width="1.1" fill="none"/><rect x="458.20" y="118.80" width="3.80" height="3.80" stroke="#d07058" stroke-width="0.9" fill="none"/><circle cx="460.10" cy="120.70" r="2.9" stroke="#8e8440" stroke-width="1.25" fill="none"/><path d="M459.20 119.80l1.8 1.8M459.20 121.60l1.8 -1.8" stroke="#202020" stroke-width="1.1" fill="none"/><circle cx="465.30" cy="97.50" r="2.9" stroke="#52d052" stroke-width="1.1" fill="none"/><path d="M464.40 96.60l1.8 1.8M464.40 98.40l1.8 -1.8" stroke="#202020" stroke-width="1.1" fill="none"/><circle cx="476.90" cy="101.60" r="2.9" stroke="#52d052" stroke-width="1.1" fill="none"/><path d="M476.00 100.70l1.8 1.8M476.00 102.50l1.8 -1.8" stroke="#202020" stroke-width="1.1" fill="none"/><circle cx="449.70" cy="142.40" r="2.8" stroke="#9466b8" stroke-width="1.05" fill="none"/><path d="M448.70 141.40l2.0 2.0M448.70 143.40l2.0 -2.0" stroke="#503060" stroke-width="0.8" fill="none"/><circle cx="494.00" cy="153.90" r="2.8" stroke="#9466b8" stroke-width="1.05" fill="none"/><path d="M493.00 152.90l2.0 2.0M493.00 154.90l2.0 -2.0" stroke="#503060" stroke-width="0.8" fill="none"/><path d="M458.30 123.70L461.20 126.60L458.30 129.50L455.40 126.60Z" stroke="#8a48e0" stroke-width="1.1" fill="#9a66e8"/><path d="M458.30 125.30L459.90 128.10L456.70 128.10Z" stroke="#4a2ab8" stroke-width="0.8" fill="none"/><circle cx="423.70" cy="186.40" r="2.8" stroke="#6cd47a" stroke-width="1.0" fill="none"/><path d="M423.70 184.60L425.70 188.10L421.70 188.10Z" stroke="#2c34a8" stroke-width="1.15" fill="#5a5ad0"/>
<path d="M473.90 376.80v-1.9M473.90 376.80l-1.65 0.95M473.90 376.80l1.65 0.95" stroke="#222" stroke-width="1.05" fill="none"/><path d="M473.40 416.80v-1.9M473.40 416.80l-1.65 0.95M473.40 416.80l1.65 0.95" stroke="#222" stroke-width="1.05" fill="none"/><path d="M438.90 430.10l2.8 2.8M438.90 432.90l2.8 -2.8" stroke="#222" stroke-width="1.1" fill="none"/><path d="M436.10 442.20l2.8 2.8M436.10 445.00l2.8 -2.8" stroke="#222" stroke-width="1.1" fill="none"/><path d="M457.40 450.30l2.8 2.8M457.40 453.10l2.8 -2.8" stroke="#222" stroke-width="1.1" fill="none"/><path d="M473.00 459.20l2.8 2.8M473.00 462.00l2.8 -2.8" stroke="#222" stroke-width="1.1" fill="none"/><path d="M496.10 439.80l2.8 2.8M496.10 442.60l2.8 -2.8" stroke="#222" stroke-width="1.1" fill="none"/><path d="M523.10 420.30l2.8 2.8M523.10 423.10l2.8 -2.8" stroke="#222" stroke-width="1.1" fill="none"/><path d="M536.90 431.30l2.8 2.8M536.90 434.10l2.8 -2.8" stroke="#222" stroke-width="1.1" fill="none"/><path d="M528.30 443.90l2.8 2.8M528.30 446.70l2.8 -2.8" stroke="#222" stroke-width="1.1" fill="none"/><path d="M508.40 462.00l2.8 2.8M508.40 464.80l2.8 -2.8" stroke="#222" stroke-width="1.1" fill="none"/><path d="M539.40 460.80l2.8 2.8M539.40 463.60l2.8 -2.8" stroke="#222" stroke-width="1.1" fill="none"/><path d="M494.70 466.00l2.8 2.8M494.70 468.80l2.8 -2.8" stroke="#222" stroke-width="1.1" fill="none"/><path d="M529.80 468.90l2.8 2.8M529.80 471.70l2.8 -2.8" stroke="#222" stroke-width="1.1" fill="none"/><path d="M529.60 476.10l2.8 2.8M529.60 478.90l2.8 -2.8" stroke="#222" stroke-width="1.1" fill="none"/><path d="M514.20 477.00l2.8 2.8M514.20 479.80l2.8 -2.8" stroke="#222" stroke-width="1.1" fill="none"/><path d="M516.90 500.60l2.8 2.8M516.90 503.40l2.8 -2.8" stroke="#222" stroke-width="1.1" fill="none"/><path d="M437.00 478.50l2.8 2.8M437.00 481.30l2.8 -2.8" stroke="#222" stroke-width="1.1" fill="none"/><path d="M428.20 486.40l2.8 2.8M428.20 489.20l2.8 -2.8" stroke="#222" stroke-width="1.1" fill="none"/><path d="M432.70 490.60l2.8 2.8M432.70 493.40l2.8 -2.8" stroke="#222" stroke-width="1.1" fill="none"/><path d="M476.40 379.30l2.8 2.8M476.40 382.10l2.8 -2.8" stroke="#222" stroke-width="1.1" fill="none"/><path d="M480.60 377.50l2.8 2.8M480.60 380.30l2.8 -2.8" stroke="#222" stroke-width="1.1" fill="none"/><path d="M481.10 383.50l2.8 2.8M481.10 386.30l2.8 -2.8" stroke="#222" stroke-width="1.1" fill="none"/><path d="M469.40 392.90l2.8 2.8M469.40 395.70l2.8 -2.8" stroke="#222" stroke-width="1.1" fill="none"/><rect x="472.40" y="370.40" width="4.60" height="4.60" stroke="#e26262" stroke-width="1.0" fill="none"/><path d="M473.80 371.80l1.8 1.8M473.80 373.60l1.8 -1.8" stroke="#202020" stroke-width="1.1" fill="none"/><rect x="476.40" y="370.80" width="4.60" height="4.60" stroke="#e26262" stroke-width="1.0" fill="none"/><path d="M477.80 372.20l1.8 1.8M477.80 374.00l1.8 -1.8" stroke="#202020" stroke-width="1.1" fill="none"/><rect x="474.10" y="382.90" width="4.60" height="4.60" stroke="#e26262" stroke-width="1.0" fill="none"/><path d="M475.50 384.30l1.8 1.8M475.50 386.10l1.8 -1.8" stroke="#202020" stroke-width="1.1" fill="none"/><rect x="458.60" y="394.00" width="4.60" height="4.60" stroke="#e26262" stroke-width="1.0" fill="none"/><path d="M460.00 395.40l1.8 1.8M460.00 397.20l1.8 -1.8" stroke="#202020" stroke-width="1.1" fill="none"/><rect x="463.50" y="395.00" width="4.60" height="4.60" stroke="#e26262" stroke-width="1.0" fill="none"/><path d="M464.90 396.40l1.8 1.8M464.90 398.20l1.8 -1.8" stroke="#202020" stroke-width="1.1" fill="none"/><rect x="479.70" y="392.30" width="4.60" height="4.60" stroke="#e26262" stroke-width="1.0" fill="none"/><path d="M481.10 393.70l1.8 1.8M481.10 395.50l1.8 -1.8" stroke="#202020" stroke-width="1.1" fill="none"/><rect x="481.20" y="401.40" width="4.60" height="4.60" stroke="#e26262" stroke-width="1.0" fill="none"/><path d="M482.60 402.80l1.8 1.8M482.60 404.60l1.8 -1.8" stroke="#202020" stroke-width="1.1" fill="none"/><rect x="467.60" y="419.60" width="4.60" height="4.60" stroke="#e26262" stroke-width="1.0" fill="none"/><path d="M469.00 421.00l1.8 1.8M469.00 422.80l1.8 -1.8" stroke="#202020" stroke-width="1.1" fill="none"/><rect x="436.50" y="459.10" width="4.60" height="4.60" stroke="#e26262" stroke-width="1.0" fill="none"/><path d="M437.90 460.50l1.8 1.8M437.90 462.30l1.8 -1.8" stroke="#202020" stroke-width="1.1" fill="none"/><rect x="463.90" y="384.80" width="3.80" height="3.80" stroke="#d07058" stroke-width="0.9" fill="none"/><circle cx="465.80" cy="386.70" r="2.9" stroke="#8e8440" stroke-width="1.25" fill="none"/><path d="M464.90 385.80l1.8 1.8M464.90 387.60l1.8 -1.8" stroke="#202020" stroke-width="1.1" fill="none"/><rect x="473.50" y="395.40" width="3.80" height="3.80" stroke="#d07058" stroke-width="0.9" fill="none"/><circle cx="475.40" cy="397.30" r="2.9" stroke="#8e8440" stroke-width="1.25" fill="none"/><path d="M474.50 396.40l1.8 1.8M474.50 398.20l1.8 -1.8" stroke="#202020" stroke-width="1.1" fill="none"/><rect x="472.40" y="410.60" width="3.80" height="3.80" stroke="#d07058" stroke-width="0.9" fill="none"/><circle cx="474.30" cy="412.50" r="2.9" stroke="#8e8440" stroke-width="1.25" fill="none"/><path d="M473.40 411.60l1.8 1.8M473.40 413.40l1.8 -1.8" stroke="#202020" stroke-width="1.1" fill="none"/><rect x="459.20" y="424.70" width="3.80" height="3.80" stroke="#d07058" stroke-width="0.9" fill="none"/><circle cx="461.10" cy="426.60" r="2.9" stroke="#8e8440" stroke-width="1.25" fill="none"/><path d="M460.20 425.70l1.8 1.8M460.20 427.50l1.8 -1.8" stroke="#202020" stroke-width="1.1" fill="none"/><circle cx="466.30" cy="403.40" r="2.9" stroke="#52d052" stroke-width="1.1" fill="none"/><path d="M465.40 402.50l1.8 1.8M465.40 404.30l1.8 -1.8" stroke="#202020" stroke-width="1.1" fill="none"/><circle cx="477.90" cy="407.50" r="2.9" stroke="#52d052" stroke-width="1.1" fill="none"/><path d="M477.00 406.60l1.8 1.8M477.00 408.40l1.8 -1.8" stroke="#202020" stroke-width="1.1" fill="none"/><circle cx="450.70" cy="448.30" r="2.8" stroke="#9466b8" stroke-width="1.05" fill="none"/><path d="M449.70 447.30l2.0 2.0M449.70 449.30l2.0 -2.0" stroke="#503060" stroke-width="0.8" fill="none"/><circle cx="495.00" cy="459.80" r="2.8" stroke="#9466b8" stroke-width="1.05" fill="none"/><path d="M494.00 458.80l2.0 2.0M494.00 460.80l2.0 -2.0" stroke="#503060" stroke-width="0.8" fill="none"/><path d="M459.30 429.60L462.20 432.50L459.30 435.40L456.40 432.50Z" stroke="#8a48e0" stroke-width="1.1" fill="#9a66e8"/><path d="M459.30 431.20L460.90 434.00L457.70 434.00Z" stroke="#4a2ab8" stroke-width="0.8" fill="none"/><circle cx="424.70" cy="492.30" r="2.8" stroke="#6cd47a" stroke-width="1.0" fill="none"/><path d="M424.70 490.50L426.70 494.00L422.70 494.00Z" stroke="#2c34a8" stroke-width="1.15" fill="#5a5ad0"/>
<path d="M210.40 164.60L212.60 168.45L208.20 168.45Z" stroke="#3a3ad0" stroke-width="1.0" fill="none"/>
<text x="225.60" y="170.20" font-size="10.6" textLength="18.8" lengthAdjust="spacingAndGlyphs">BPT</text>
<path d="M210.40 176.55L213.20 179.35L210.40 182.15L207.60 179.35Z" stroke="#e050e0" stroke-width="1.0" fill="none"/>
<text x="224.90" y="182.95" font-size="10.6" textLength="24.4" lengthAdjust="spacingAndGlyphs">[OIII]</text>
<text x="250.30" y="182.95" font-size="10.6" textLength="5.0" lengthAdjust="spacingAndGlyphs">/</text>
<text x="255.10" y="182.95" font-size="10.6" textLength="7.7" lengthAdjust="spacingAndGlyphs">H</text>
<text x="263.50" y="182.95" font-size="10.6" textLength="6.9" lengthAdjust="spacingAndGlyphs" font-style="italic">&#946;</text>
<circle cx="210.40" cy="192.10" r="2.9" stroke="#52d052" stroke-width="1.0" fill="none"/>
<text x="225.60" y="195.70" font-size="10.6" textLength="27.0" lengthAdjust="spacingAndGlyphs">[NeV]</text>
<rect x="208.20" y="202.65" width="4.40" height="4.40" stroke="#e26262" stroke-width="1.0" fill="none"/>
<text x="225.60" y="208.45" font-size="10.6" textLength="12.8" lengthAdjust="spacingAndGlyphs">BL</text>
<path d="M210.40 218.10v-1.5M210.40 218.10l-1.30 0.75M210.40 218.10l1.30 0.75" stroke="#222" stroke-width="0.9" fill="none"/>
<text x="220.30" y="220.10" font-size="10.6" textLength="25.8" lengthAdjust="spacingAndGlyphs">Spec.</text>
<text x="252.60" y="220.10" font-size="10.6" textLength="5.0" lengthAdjust="spacingAndGlyphs">z</text>
<path d="M209.20 229.15l2.4 2.4M209.20 231.55l2.4 -2.4" stroke="#222" stroke-width="0.9" fill="none"/>
<text x="220.30" y="233.75" font-size="10.6" textLength="13.0" lengthAdjust="spacingAndGlyphs">No</text>
<text x="238.20" y="233.75" font-size="10.6" textLength="5.0" lengthAdjust="spacingAndGlyphs">z</text>
<path d="M210.40 470.30L212.60 474.15L208.20 474.15Z" stroke="#3a3ad0" stroke-width="1.0" fill="none"/>
<text x="225.60" y="475.90" font-size="10.6" textLength="18.8" lengthAdjust="spacingAndGlyphs">BPT</text>
<path d="M210.40 482.25L213.20 485.05L210.40 487.85L207.60 485.05Z" stroke="#e050e0" stroke-width="1.0" fill="none"/>
<text x="224.90" y="488.65" font-size="10.6" textLength="24.4" lengthAdjust="spacingAndGlyphs">[OIII]</text>
<text x="250.30" y="488.65" font-size="10.6" textLength="5.0" lengthAdjust="spacingAndGlyphs">/</text>
<text x="255.10" y="488.65" font-size="10.6" textLength="7.7" lengthAdjust="spacingAndGlyphs">H</text>
<text x="263.50" y="488.65" font-size="10.6" textLength="6.9" lengthAdjust="spacingAndGlyphs" font-style="italic">&#946;</text>
<circle cx="210.40" cy="497.80" r="2.9" stroke="#52d052" stroke-width="1.0" fill="none"/>
<text x="225.60" y="501.40" font-size="10.6" textLength="27.0" lengthAdjust="spacingAndGlyphs">[NeV]</text>
<rect x="208.20" y="508.35" width="4.40" height="4.40" stroke="#e26262" stroke-width="1.0" fill="none"/>
<text x="225.60" y="514.15" font-size="10.6" textLength="12.8" lengthAdjust="spacingAndGlyphs">BL</text>
<path d="M210.40 523.80v-1.5M210.40 523.80l-1.30 0.75M210.40 523.80l1.30 0.75" stroke="#222" stroke-width="0.9" fill="none"/>
<text x="220.30" y="525.80" font-size="10.6" textLength="25.8" lengthAdjust="spacingAndGlyphs">Spec.</text>
<text x="252.60" y="525.80" font-size="10.6" textLength="5.0" lengthAdjust="spacingAndGlyphs">z</text>
<path d="M209.20 534.85l2.4 2.4M209.20 537.25l2.4 -2.4" stroke="#222" stroke-width="0.9" fill="none"/>
<text x="220.30" y="539.45" font-size="10.6" textLength="13.0" lengthAdjust="spacingAndGlyphs">No</text>
<text x="238.20" y="539.45" font-size="10.6" textLength="5.0" lengthAdjust="spacingAndGlyphs">z</text>
<path d="M368.50 24.30L370.70 28.15L366.30 28.15Z" stroke="#3a3ad0" stroke-width="1.0" fill="none"/>
<text x="383.70" y="29.90" font-size="10.6" textLength="18.8" lengthAdjust="spacingAndGlyphs">BPT</text>
<path d="M368.50 36.25L371.30 39.05L368.50 41.85L365.70 39.05Z" stroke="#e050e0" stroke-width="1.0" fill="none"/>
<text x="383.00" y="42.65" font-size="10.6" textLength="24.4" lengthAdjust="spacingAndGlyphs">[OIII]</text>
<text x="408.40" y="42.65" font-size="10.6" textLength="5.0" lengthAdjust="spacingAndGlyphs">/</text>
<text x="413.20" y="42.65" font-size="10.6" textLength="7.7" lengthAdjust="spacingAndGlyphs">H</text>
<text x="421.60" y="42.65" font-size="10.6" textLength="6.9" lengthAdjust="spacingAndGlyphs" font-style="italic">&#946;</text>
<circle cx="368.50" cy="51.80" r="2.9" stroke="#52d052" stroke-width="1.0" fill="none"/>
<text x="383.70" y="55.40" font-size="10.6" textLength="27.0" lengthAdjust="spacingAndGlyphs">[NeV]</text>
<rect x="366.30" y="62.35" width="4.40" height="4.40" stroke="#e26262" stroke-width="1.0" fill="none"/>
<text x="383.70" y="68.15" font-size="10.6" textLength="12.8" lengthAdjust="spacingAndGlyphs">BL</text>
<path d="M368.50 77.80v-1.5M368.50 77.80l-1.30 0.75M368.50 77.80l1.30 0.75" stroke="#222" stroke-width="0.9" fill="none"/>
<text x="378.40" y="79.80" font-size="10.6" textLength="24.2" lengthAdjust="spacingAndGlyphs">Spec</text>
<text x="407.40" y="79.80" font-size="10.6" textLength="5.0" lengthAdjust="spacingAndGlyphs">z</text>
<path d="M367.30 88.85l2.4 2.4M367.30 91.25l2.4 -2.4" stroke="#222" stroke-width="0.9" fill="none"/>
<text x="378.40" y="93.45" font-size="10.6" textLength="13.0" lengthAdjust="spacingAndGlyphs">No</text>
<text x="396.60" y="93.45" font-size="10.6" textLength="5.0" lengthAdjust="spacingAndGlyphs">z</text>
<path d="M369.50 330.10L371.70 333.95L367.30 333.95Z" stroke="#3a3ad0" stroke-width="1.0" fill="none"/>
<text x="384.70" y="335.70" font-size="10.6" textLength="18.8" lengthAdjust="spacingAndGlyphs">BPT</text>
<path d="M369.50 342.05L372.30 344.85L369.50 347.65L366.70 344.85Z" stroke="#e050e0" stroke-width="1.0" fill="none"/>
<text x="384.00" y="348.45" font-size="10.6" textLength="24.4" lengthAdjust="spacingAndGlyphs">[OIII]</text>
<text x="409.40" y="348.45" font-size="10.6" textLength="5.0" lengthAdjust="spacingAndGlyphs">/</text>
<text x="414.20" y="348.45" font-size="10.6" textLength="7.7" lengthAdjust="spacingAndGlyphs">H</text>
<text x="422.60" y="348.45" font-size="10.6" textLength="6.9" lengthAdjust="spacingAndGlyphs" font-style="italic">&#946;</text>
<circle cx="369.50" cy="357.60" r="2.9" stroke="#52d052" stroke-width="1.0" fill="none"/>
<text x="384.70" y="361.20" font-size="10.6" textLength="27.0" lengthAdjust="spacingAndGlyphs">[NeV]</text>
<rect x="367.30" y="368.15" width="4.40" height="4.40" stroke="#e26262" stroke-width="1.0" fill="none"/>
<text x="384.70" y="373.95" font-size="10.6" textLength="12.8" lengthAdjust="spacingAndGlyphs">BL</text>
<path d="M369.50 383.60v-1.5M369.50 383.60l-1.30 0.75M369.50 383.60l1.30 0.75" stroke="#222" stroke-width="0.9" fill="none"/>
<text x="379.40" y="385.60" font-size="10.6" textLength="24.2" lengthAdjust="spacingAndGlyphs">Spec</text>
<text x="408.40" y="385.60" font-size="10.6" textLength="5.0" lengthAdjust="spacingAndGlyphs">z</text>
<path d="M368.30 394.65l2.4 2.4M368.30 397.05l2.4 -2.4" stroke="#222" stroke-width="0.9" fill="none"/>
<text x="379.40" y="399.25" font-size="10.6" textLength="13.0" lengthAdjust="spacingAndGlyphs">No</text>
<text x="397.60" y="399.25" font-size="10.6" textLength="5.0" lengthAdjust="spacingAndGlyphs">z</text>
</g></svg>
</body></html>
